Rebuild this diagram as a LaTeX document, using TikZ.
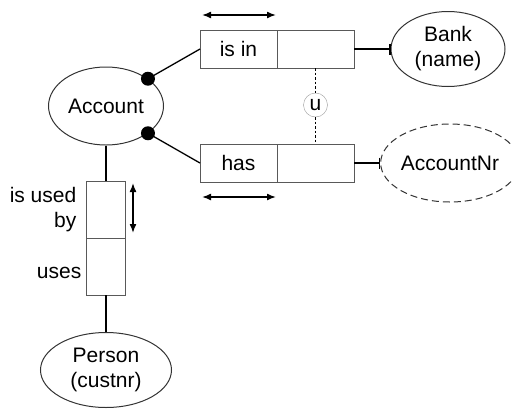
\documentclass[tikz,border=0pt]{standalone}
\usepackage{fontspec}
\setmainfont{Liberation Sans}
\usepackage{tikz}
\usetikzlibrary{shapes.geometric,positioning,arrows.meta,arrows}

\begin{document}
\begin{tikzpicture}[x=1pt,y=-1pt,font=\fontsize{21}{25}\selectfont,
    cell/.style={draw=black!65,line width=0.9pt,minimum width=77pt,minimum height=38pt,inner sep=0pt,outer sep=0pt},
    vcell/.style={draw=black!65,line width=0.9pt,minimum width=39pt,minimum height=57pt,inner sep=0pt,outer sep=0pt},
    entity/.style={ellipse,draw=black!80,line width=1pt,align=center,inner sep=0pt},
    dot/.style={circle,fill=black,minimum size=14pt,inner sep=0pt},
    link/.style={line width=1.3pt},
    >={Latex[length=9pt,width=7pt]}]
            \useasboundingbox (0,0) rectangle (512,408);
            \node[entity,minimum width=115pt,minimum height=78pt] (Account) at (106,106) {Account};
            \node[entity,minimum width=114pt,minimum height=75pt] (Bank) at (448,49) {Bank\\(name)};
            \node[entity,dash pattern=on 7pt off 4pt,minimum width=118pt,minimum height=78pt] (AccountNr) at (450,163) {AccountNr};
            \node[entity,minimum width=131pt,minimum height=75pt] (Person) at (106,370) {Person\\(custnr)};
            \node[cell] (isin) at (238.5,49) {is in};
            \node[cell,right=0pt of isin] (isinr) {};
            \node[cell] (has) at (238.5,163) {has};
            \node[cell,right=0pt of has] (hasr) {};
            \node[vcell] (usedby) at (106,209.5) {};
            \node[vcell,below=0pt of usedby] (uses) {};
            \node[left=10pt of usedby,align=right,inner sep=0pt] (usedbylabel) {is used\\by};
            \node[left=5pt of uses,yshift=-6pt,inner sep=0pt] (useslabel) {uses};
            \node[circle,draw=black!40,minimum size=24pt,inner sep=0pt] (u) at (315.5,105) {u};
            \node[dot] (d1) at (Account.33) {};
            \node[dot] (d2) at (Account.-33) {};
            \coordinate (t1) at (202,15);
            \coordinate (t2) at (276,15);
            \coordinate (b1) at (202,197);
            \coordinate (b2) at (276,197);
            \coordinate (v1) at (133,183);
            \coordinate (v2) at (133,233);
            \path[link] (d1.center) edge (isin.west);
            \path[link] (d2.center) edge (has.west);
            \path[link] (Account) edge (usedby);
            \path[link] (uses) edge (Person);
            \path[link,-{Bar[width=11pt]}] (isinr) edge (Bank);
            \path[link,-{Bar[width=11pt]}] (hasr) edge (AccountNr);
            \path[dash pattern=on 2.5pt off 2pt,line width=1.6pt] (isinr) edge (u);
            \path[dash pattern=on 2.5pt off 2pt,line width=1.6pt] (u) edge (hasr);
            \path[<->,line width=1.5pt] (t1) edge (t2);
            \path[<->,line width=1.5pt] (b1) edge (b2);
            \path[<->,line width=1.5pt] (v1) edge (v2);
        \end{tikzpicture}
\end{document}
